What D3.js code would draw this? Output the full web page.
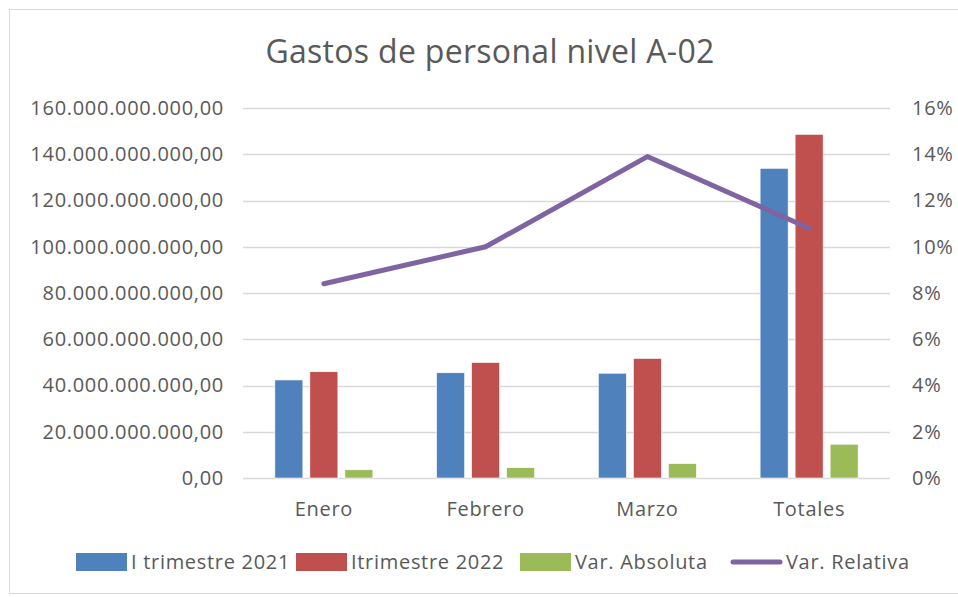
<!DOCTYPE html>
<meta charset="utf-8">
<style>
body { margin: 0; background: #fff; }
svg { display: block; font-family: "Open Sans", sans-serif; }
</style>
<svg width="958" height="597"></svg>
<script src="https://d3js.org/d3.v7.min.js"></script>
<script>

var categories = ["Enero", "Febrero", "Marzo", "Totales"];
var seriesNames = ["I trimestre 2021", "Itrimestre 2022", "Var. Absoluta"];
var trim2021 = [42.4e9, 45.5e9, 45.3e9, 133.9e9];
var trim2022 = [45.95e9, 49.95e9, 51.7e9, 148.6e9];
var varAbsoluta = [3.55e9, 4.45e9, 6.2e9, 14.6e9];
var varRelativa = [0.084, 0.100, 0.139, 0.108];
var lineName = "Var. Relativa";
var leftTicks = [0, 20e9, 40e9, 60e9, 80e9, 100e9, 120e9, 140e9, 160e9];
var rightTicks = [0, 0.02, 0.04, 0.06, 0.08, 0.10, 0.12, 0.14, 0.16];

var colors = ["#4F81BD", "#C0504D", "#9BBB59"];
var lineColor = "#8064A2";
var textColor = "#595959";

var svg = d3.select("svg"),
    width = +svg.attr("width"),
    height = +svg.attr("height");

var margin = {top: 108, right: 68, bottom: 119, left: 243};

var locale = d3.formatLocale({decimal: ",", thousands: ".", grouping: [3], currency: ["", ""]});
var fmtLeft = locale.format(",.2f");
var fmtRight = function(d) { return Math.round(d * 100) + "%"; };

function styleText(sel) {
  sel.attr("font-size", 20)
     .attr("letter-spacing", 0.7)
     .attr("fill", textColor)
     .attr("font-family", "Open Sans");
}

// chart border
svg.append("rect")
    .attr("x", 9.5).attr("y", 9.5)
    .attr("width", width).attr("height", height - 13)
    .attr("fill", "#fff").attr("stroke", "#d9d9d9");

var x0 = d3.scaleBand()
    .domain(categories)
    .range([margin.left, width - margin.right])
    .paddingInner(0.394)
    .paddingOuter(0.197);

var x1 = d3.scaleBand()
    .domain(d3.range(seriesNames.length))
    .range([0, x0.bandwidth()])
    .paddingInner(0.2);

var y = d3.scaleLinear().domain([0, 160e9]).range([height - margin.bottom, margin.top]);
var y2 = d3.scaleLinear().domain([0, 0.16]).range([height - margin.bottom, margin.top]);

// gridlines
svg.append("g")
  .selectAll("line")
  .data(leftTicks)
  .enter().append("line")
    .attr("x1", margin.left)
    .attr("x2", width - margin.right)
    .attr("y1", function(d) { return Math.round(y(d)) + 0.5; })
    .attr("y2", function(d) { return Math.round(y(d)) + 0.5; })
    .attr("stroke", "#d9d9d9")
    .attr("stroke-width", 1.5);

// left axis
var leftAxis = svg.append("g")
    .attr("transform", "translate(" + (margin.left - 19) + ",0)")
    .call(d3.axisLeft(y).tickValues(leftTicks).tickFormat(fmtLeft).tickSize(0).tickPadding(0));
leftAxis.select(".domain").remove();
leftAxis.selectAll("text").call(styleText);

// right axis
var rightAxis = svg.append("g")
    .attr("transform", "translate(" + (width - margin.right + 22) + ",0)")
    .call(d3.axisRight(y2).tickValues(rightTicks).tickFormat(fmtRight).tickSize(0).tickPadding(0));
rightAxis.select(".domain").remove();
rightAxis.selectAll("text").call(styleText);

// category axis
var bottomAxis = svg.append("g")
    .attr("transform", "translate(0," + (height - margin.bottom) + ")")
    .call(d3.axisBottom(x0).tickSize(0).tickPadding(24));
bottomAxis.select(".domain").remove();
bottomAxis.selectAll("text").call(styleText);

// bars
var series = [trim2021, trim2022, varAbsoluta];
series.forEach(function(values, s) {
  svg.append("g")
    .selectAll("rect")
    .data(values)
    .enter().append("rect")
      .attr("x", function(d, i) { return x0(categories[i]) + x1(s); })
      .attr("y", function(d) { return y(d); })
      .attr("width", x1.bandwidth())
      .attr("height", function(d) { return y(0) - y(d); })
      .attr("fill", colors[s])
      .attr("stroke", "#fff")
      .attr("stroke-width", 0.6);
});

// relative line
var line = d3.line()
    .x(function(d, i) { return x0(categories[i]) + x0.bandwidth() / 2; })
    .y(function(d) { return y2(d); });

svg.append("path")
    .datum(varRelativa)
    .attr("d", line)
    .attr("fill", "none")
    .attr("stroke", lineColor)
    .attr("stroke-width", 5)
    .attr("stroke-linecap", "round")
    .attr("stroke-linejoin", "round");

// title
svg.append("text")
    .attr("x", 490)
    .attr("y", 63)
    .attr("text-anchor", "middle")
    .attr("font-size", 32)
    .attr("letter-spacing", 0.3)
    .attr("fill", textColor)
    .text("Gastos de personal nivel A-02");

// legend
var legendItems = seriesNames.map(function(n, i) { return {name: n, color: colors[i], type: "bar"}; });
legendItems.push({name: lineName, color: lineColor, type: "line"});
var legendX = [76, 296, 520, 731];

var legend = svg.append("g")
  .selectAll("g")
  .data(legendItems)
  .enter().append("g")
    .attr("transform", function(d, i) { return "translate(" + legendX[i] + ",562)"; });

legend.filter(function(d) { return d.type === "bar"; })
  .append("rect")
    .attr("x", 0).attr("y", -9)
    .attr("width", 51).attr("height", 18)
    .attr("fill", function(d) { return d.color; });

legend.filter(function(d) { return d.type === "line"; })
  .append("line")
    .attr("x1", 2).attr("x2", 49)
    .attr("stroke", function(d) { return d.color; })
    .attr("stroke-width", 5)
    .attr("stroke-linecap", "round");

legend.append("text")
    .attr("x", 55)
    .attr("dy", "0.35em")
    .call(styleText)
    .text(function(d) { return d.name; });

</script>
